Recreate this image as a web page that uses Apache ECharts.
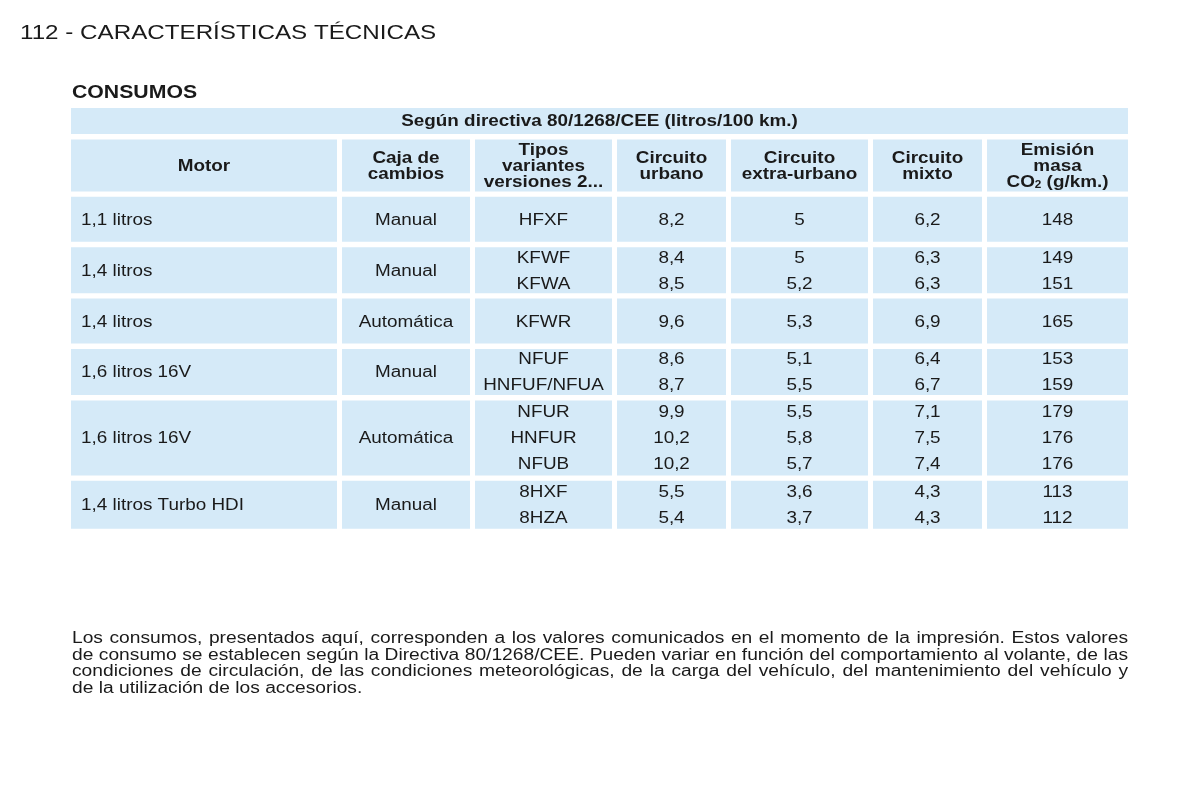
<!DOCTYPE html>
<html>
<head>
<meta charset="utf-8">
<script src="https://cdn.jsdelivr.net/npm/echarts@6/dist/echarts.min.js"></script>
<style>html,body{margin:0;padding:0;background:#fff}#main{width:1200px;height:800px}</style>
</head>
<body>
<div id="main"></div>
<script>
// ---------- data ----------
const pageTitle = '112 - CARACTERÍSTICAS TÉCNICAS';
const sectionTitle = 'CONSUMOS';
const bandTitle = 'Según directiva 80/1268/CEE (litros/100 km.)';
const columnHeaders = ['Motor', 'Caja de\ncambios', 'Tipos\nvariantes\nversiones 2...', 'Circuito\nurbano', 'Circuito\nextra-urbano', 'Circuito\nmixto', 'Emisión\nmasa\nCO{sub|2} (g/km.)'];
const motors = ['1,1 litros', '1,4 litros', '1,4 litros', '1,6 litros 16V', '1,6 litros 16V', '1,4 litros Turbo HDI'];
const gearboxes = ['Manual', 'Manual', 'Automática', 'Manual', 'Automática', 'Manual'];
const variants = [['HFXF'], ['KFWF', 'KFWA'], ['KFWR'], ['NFUF', 'HNFUF/NFUA'], ['NFUR', 'HNFUR', 'NFUB'], ['8HXF', '8HZA']];
const urban = [[8.2], [8.4, 8.5], [9.6], [8.6, 8.7], [9.9, 10.2, 10.2], [5.5, 5.4]];
const extraUrban = [[5], [5, 5.2], [5.3], [5.1, 5.5], [5.5, 5.8, 5.7], [3.6, 3.7]];
const mixed = [[6.2], [6.3, 6.3], [6.9], [6.4, 6.7], [7.1, 7.5, 7.4], [4.3, 4.3]];
const co2 = [[148], [149, 151], [165], [153, 159], [179, 176, 176], [113, 112]];
const footnoteLines = [
  'Los consumos, presentados aquí, corresponden a los valores comunicados en el momento de la impresión. Estos valores',
  'de consumo se establecen según la Directiva 80/1268/CEE. Pueden variar en función del comportamiento al volante, de las',
  'condiciones de circulación, de las condiciones meteorológicas, de la carga del vehículo, del mantenimiento del vehículo y',
  'de la utilización de los accesorios.'
];

// ---------- layout / style ----------
const FONT = '"Liberation Sans", Arial, Helvetica, sans-serif';
const SX = 1.18;              // horizontal stretch of the printed page
const SX_NOTE = 1.2;
const DY = 1;                 // optical baseline nudge
const TXT = '#1a1a1a';
const CELL = '#d5eaf8';
const colWidths = [271, 133, 142, 114, 142, 114, 146];
const HGAP = 5;
const bandH = 26, headH = 52;
const groupHeights = [45, 46, 45, 46, 75, 48];
const VGAP = 5.4;
const TABLE_LEFT = 71, TABLE_TOP = 108;

const fmt = v => String(v).replace('.', ',');

const colStart = [];
let acc = 0;
colWidths.forEach(w => { colStart.push(acc); acc += w; });
const tableW = acc - HGAP;

const cells = [];
let y = 0;
cells.push({x0: 0, x1: tableW, y0: y, y1: y + bandH, text: bandTitle, bold: true, align: 'center', lh: 16});
y += bandH + VGAP;
columnHeaders.forEach((h, i) => {
  cells.push({x0: colStart[i], x1: colStart[i] + colWidths[i] - HGAP, y0: y, y1: y + headH, text: h, bold: true, align: 'center', lh: 16});
});
y += headH + VGAP;
motors.forEach((m, g) => {
  const h = groupHeights[g];
  const cols = [
    m,
    gearboxes[g],
    variants[g].join('\n'),
    urban[g].map(fmt).join('\n'),
    extraUrban[g].map(fmt).join('\n'),
    mixed[g].map(fmt).join('\n'),
    co2[g].map(fmt).join('\n')
  ];
  cols.forEach((t, i) => {
    cells.push({x0: colStart[i], x1: colStart[i] + colWidths[i] - HGAP, y0: y, y1: y + h, text: t, bold: false, align: i === 0 ? 'left' : 'center', lh: 26});
  });
  y += h + VGAP;
});
const tableH = y - VGAP;

function renderCell(params, api) {
  const c = cells[params.dataIndex];
  const p0 = api.coord([api.value(0), api.value(2)]);
  const p1 = api.coord([api.value(1), api.value(3)]);
  const tx = c.align === 'left' ? p0[0] + 10 : (p0[0] + p1[0]) / 2;
  const ty = (p0[1] + p1[1]) / 2 + DY;
  return {
    type: 'group',
    children: [
      {type: 'rect', shape: {x: p0[0], y: p0[1], width: p1[0] - p0[0], height: p1[1] - p0[1]}, style: {fill: CELL}},
      {
        type: 'text', x: tx, y: ty, scaleX: SX,
        style: {
          text: c.text, x: 0, y: 0, fill: TXT,
          fontFamily: FONT, fontSize: 16, fontWeight: c.bold ? 'bold' : 'normal',
          align: c.align, verticalAlign: 'middle', lineHeight: c.lh,
          rich: {sub: {fontSize: 10, fontWeight: 'bold', fontFamily: FONT, fill: TXT, lineHeight: 6, verticalAlign: 'bottom'}}
        }
      }
    ]
  };
}

// ---------- justified footnote ----------
const ctx = document.createElement('canvas').getContext('2d');
const noteFont = '16px ' + FONT;
ctx.font = noteFont;
const NOTE_LEFT = 72, NOTE_RIGHT = 1128, NOTE_TOP = 638.5, NOTE_LH = 16.7;
const graphics = [];
graphics.push({type: 'text', x: 20, y: 33, scaleX: SX, style: {text: pageTitle, x: 0, y: 0, fill: TXT, fontFamily: FONT, fontSize: 20.5, verticalAlign: 'middle'}});
graphics.push({type: 'text', x: 72, y: 93, scaleX: SX, style: {text: sectionTitle, x: 0, y: 0, fill: TXT, fontFamily: FONT, fontSize: 18, fontWeight: 'bold', verticalAlign: 'middle'}});
footnoteLines.forEach((line, li) => {
  const words = line.split(' ');
  const widths = words.map(w => ctx.measureText(w).width * SX_NOTE);
  const sum = widths.reduce((a, b) => a + b, 0);
  const last = li === footnoteLines.length - 1;
  const gap = last ? ctx.measureText(' ').width * SX_NOTE : (NOTE_RIGHT - NOTE_LEFT - sum) / (words.length - 1);
  let x = NOTE_LEFT;
  const yy = NOTE_TOP + li * NOTE_LH;
  words.forEach((w, wi) => {
    graphics.push({type: 'text', x: x, y: yy, scaleX: SX_NOTE, style: {text: w, x: 0, y: 0, fill: TXT, font: noteFont, verticalAlign: 'middle'}});
    x += widths[wi] + gap;
  });
});

const chart = echarts.init(document.getElementById('main'), null, {renderer: 'canvas'});
chart.setOption({
  backgroundColor: '#ffffff',
  animation: false,
  grid: {left: TABLE_LEFT, top: TABLE_TOP, width: tableW, height: tableH},
  xAxis: {type: 'value', min: 0, max: tableW, show: false},
  yAxis: {type: 'value', min: 0, max: tableH, inverse: true, show: false},
  series: [{
    type: 'custom',
    coordinateSystem: 'cartesian2d',
    renderItem: renderCell,
    encode: {x: [0, 1], y: [2, 3]},
    data: cells.map(c => [c.x0, c.x1, c.y0, c.y1]),
    silent: true
  }],
  graphic: graphics
});
</script>
</body>
</html>
